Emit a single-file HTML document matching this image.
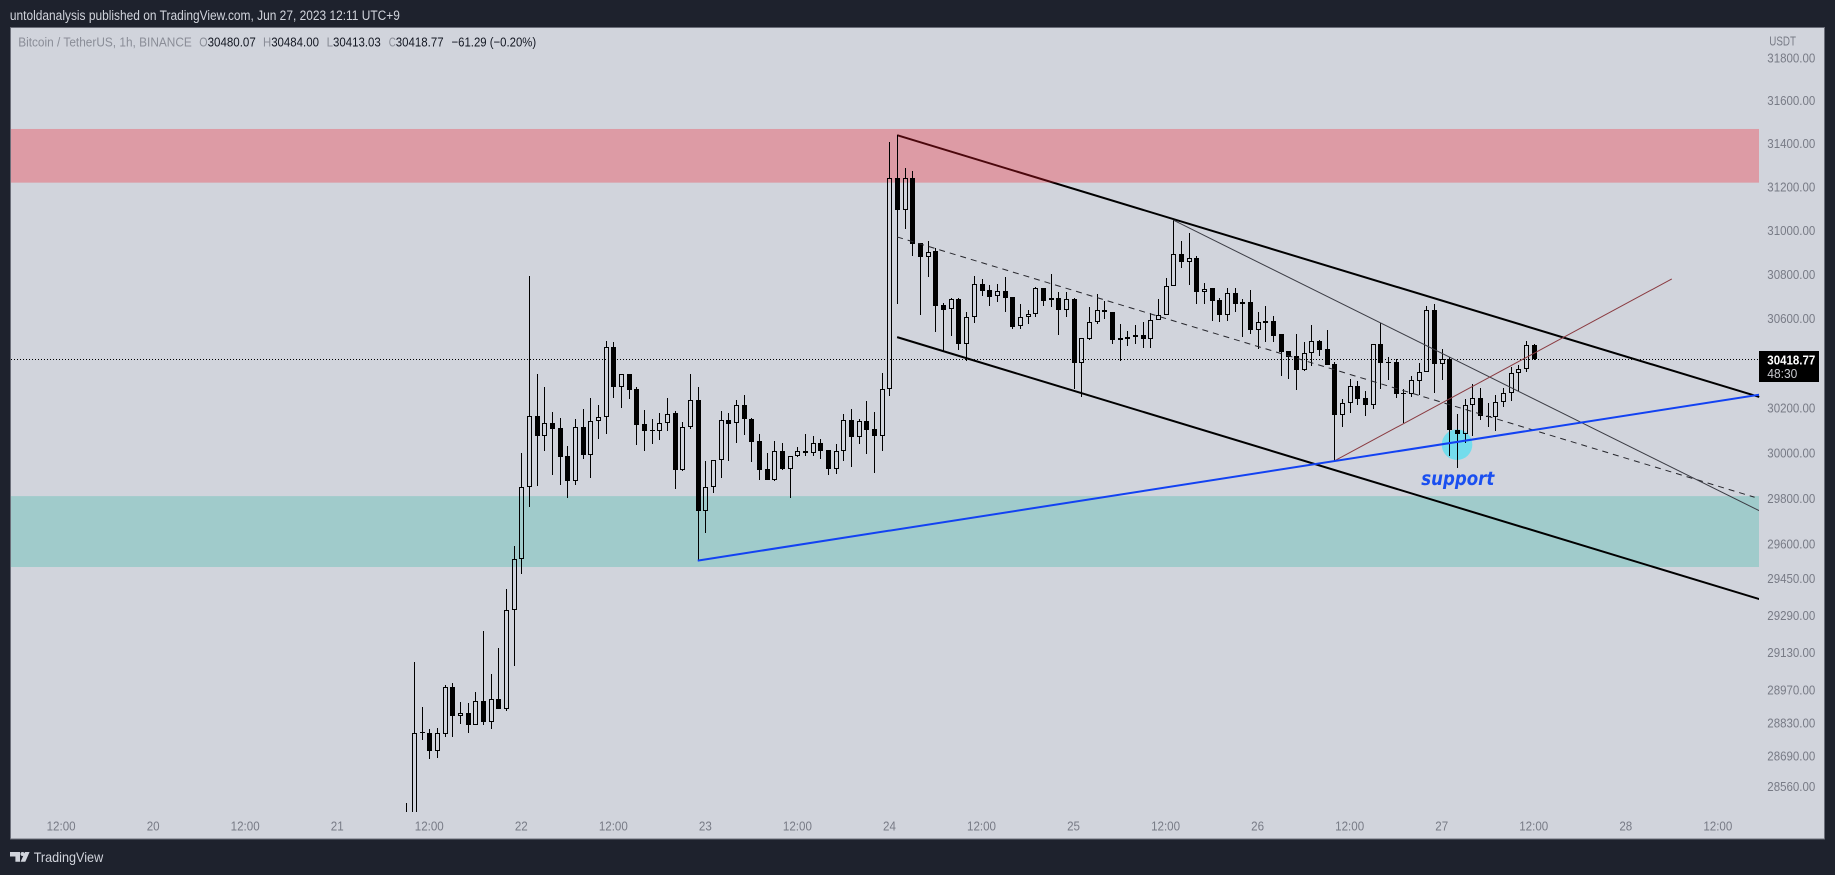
<!DOCTYPE html>
<html lang="en">
<head>
<meta charset="utf-8">
<title>BTCUSDT 1h chart</title>
<style>
html,body{margin:0;padding:0;background:#1e222d;width:1835px;height:875px;overflow:hidden}
svg{display:block;font-family:"Liberation Sans",sans-serif}
</style>
</head>
<body>
<svg id="chart" xmlns="http://www.w3.org/2000/svg" width="1835" height="875" viewBox="0 0 1835 875">
  <defs>
    <clipPath id="plot-clip"><rect x="11" y="28" width="1748" height="784"/></clipPath>
    <clipPath id="zone-clip"><rect x="11" y="28" width="1748" height="810"/></clipPath>
  </defs>
  <rect x="0" y="0" width="1835" height="875" fill="#1e222d"/>
  <rect x="10.5" y="27.5" width="1814" height="811.5" fill="#d1d4dc" stroke="#6b6e79" stroke-width="1"/>
  <text x="9.9" y="20" font-size="13.5" fill="#d1d4dc" textLength="390" lengthAdjust="spacingAndGlyphs">untoldanalysis published on TradingView.com, Jun 27, 2023 12:11 UTC+9</text>
  <g font-size="13" fill="#8a8d97">
    <text x="18.2" y="46.5" textLength="173.6" lengthAdjust="spacingAndGlyphs">Bitcoin / TetherUS, 1h, BINANCE</text>
    <text x="199.3" y="46.5" textLength="8.3" lengthAdjust="spacingAndGlyphs">O</text>
    <text x="207.6" y="46.5" fill="#131722" textLength="48.2" lengthAdjust="spacingAndGlyphs">30480.07</text>
    <text x="263" y="46.5" textLength="8.2" lengthAdjust="spacingAndGlyphs">H</text>
    <text x="271.2" y="46.5" fill="#131722" textLength="47.8" lengthAdjust="spacingAndGlyphs">30484.00</text>
    <text x="326.6" y="46.5" textLength="6.4" lengthAdjust="spacingAndGlyphs">L</text>
    <text x="333" y="46.5" fill="#131722" textLength="47.8" lengthAdjust="spacingAndGlyphs">30413.03</text>
    <text x="388.7" y="46.5" textLength="7.1" lengthAdjust="spacingAndGlyphs">C</text>
    <text x="395.8" y="46.5" fill="#131722" textLength="47.8" lengthAdjust="spacingAndGlyphs">30418.77</text>
    <text x="451.5" y="46.5" fill="#131722" textLength="84.7" lengthAdjust="spacingAndGlyphs">−61.29 (−0.20%)</text>
  </g>
  <g id="layer-under"></g>
  <g id="layer-candles" clip-path="url(#plot-clip)" shape-rendering="crispEdges"></g>
  <g id="layer-over" clip-path="url(#zone-clip)"></g>
  <g id="layer-axes"></g>
  <text x="1769.3" y="45.5" font-size="13" fill="#787b86" textLength="26.7" lengthAdjust="spacingAndGlyphs">USDT</text>
  <g>
    <path d="M10 852h10v9.7h-4.6v-5.2H10z M25 852h4.6l-4.3 9.7h-4.7z" fill="#d1d4dc"/>
    <circle cx="22.5" cy="854" r="2" fill="#d1d4dc"/>
    <text x="33.7" y="862" font-size="14" fill="#d1d4dc" textLength="69.5" lengthAdjust="spacingAndGlyphs">TradingView</text>
  </g>
</svg>
<script>
const firstHour = -15;
const opens = [28421,28380,28790,28786,28710,28780,28982,28857,28869,28822,28920,28831,28931,28888,29311,29532,29849,30163,30075,30132,30110,29986,29876,30114,29990,30141,30158,30471,30292,30351,30283,30127,30099,30096,30132,30176,29924,30114,30234,29744,29849,29968,30145,30132,30212,30149,30052,29928,29880,30008,29928,29986,30008,29999,30044,30012,29928,30008,30145,30070,30141,30105,30075,30283,31240,31093,31240,30942,30878,30906,30660,30642,30688,30485,30606,30756,30729,30701,30724,30697,30566,30606,30620,30738,30683,30692,30638,30688,30399,30507,30584,30638,30629,30512,30516,30516,30525,30507,30593,30615,30747,30892,30856,30874,30720,30738,30683,30615,30715,30674,30674,30548,30588,30588,30530,30453,30431,30368,30444,30498,30462,30395,30167,30221,30297,30243,30212,30485,30404,30404,30266,30261,30319,30359,30638,30395,30417,30101,30083,30212,30243,30163,30158,30225,30266,30355,30373,30480.07];
const highs = [28492,29089,28897,28803,28807,28990,29001,28918,28912,28961,29222,29038,29149,29403,29590,29999,30792,30351,30292,30181,30154,30030,30149,30194,30243,30212,30498,30494,30351,30351,30292,30190,30149,30176,30243,30185,30136,30351,30292,29964,29968,30185,30176,30234,30256,30154,30083,30000,30052,30044,29986,30026,30083,30075,30061,30012,30039,30172,30194,30149,30230,30181,30355,31406,31438,31286,31272,30942,30951,30919,30670,30692,30692,30629,30792,30779,30751,30756,30788,30697,30665,30638,30742,30738,30801,30720,30720,30692,30512,30651,30710,30679,30629,30575,30543,30570,30584,30625,30688,30783,31047,30951,30988,30883,30760,30738,30692,30738,30738,30688,30729,30629,30656,30611,30530,30453,30530,30494,30570,30503,30548,30404,30239,30328,30319,30274,30485,30579,30426,30417,30283,30341,30399,30656,30665,30462,30426,30172,30239,30306,30288,30221,30256,30288,30382,30391,30498,30484];
const lows = [28339,28339,28757,28676,28680,28770,28770,28825,28788,28822,28818,28801,28888,28878,29072,29469,29761,29854,30008,29902,29858,29801,29858,29973,29889,30061,30083,30243,30199,30239,30034,30008,30039,30057,30096,29840,29920,30105,29526,29647,29823,29889,29964,30044,30079,29959,29880,29880,29876,29924,29801,29981,29986,29986,29973,29902,29906,29964,29937,30039,29995,29911,30008,30252,30665,31006,30883,30615,30788,30539,30454,30521,30458,30408,30580,30701,30656,30674,30629,30552,30552,30575,30606,30656,30651,30525,30606,30283,30248,30503,30575,30597,30485,30408,30476,30485,30467,30467,30593,30615,30747,30828,30751,30665,30665,30588,30584,30588,30629,30516,30530,30462,30494,30494,30341,30328,30279,30364,30386,30431,30391,29964,30114,30176,30212,30163,30194,30283,30324,30243,30132,30248,30256,30359,30265,30324,29986,29933,30044,30075,30145,30114,30096,30203,30230,30274,30359,30413.03];
const closes = [28380,28786,28786,28710,28786,28982,28859,28869,28822,28920,28831,28931,28888,29311,29532,29849,30163,30075,30132,30105,29981,29876,30114,29990,30141,30158,30471,30292,30351,30279,30123,30096,30095,30132,30172,29924,30114,30234,29744,29849,29968,30145,30127,30212,30149,30048,29924,29880,30008,29928,29986,30008,29999,30044,30008,29928,30008,30145,30070,30141,30101,30075,30283,31240,31093,31240,30938,30878,30901,30656,30638,30688,30485,30606,30756,30724,30697,30724,30692,30561,30606,30620,30738,30679,30692,30638,30688,30399,30512,30584,30638,30629,30503,30503,30507,30525,30507,30593,30615,30747,30892,30856,30874,30720,30733,30679,30615,30715,30665,30665,30548,30584,30579,30521,30449,30426,30368,30444,30498,30458,30391,30167,30221,30297,30239,30212,30485,30399,30399,30261,30261,30324,30359,30638,30395,30417,30101,30083,30212,30243,30163,30158,30225,30266,30355,30373,30480,30418.77];

const priceTicks = [31800,31600,31400,31200,31000,30800,30600,30200,30000,29800,29600,29450,29290,29130,28970,28830,28690,28560];
const timeTickHours = [-60,-48,-36,-24,-12,0,12,24,36,48,60,72,84,96,108,120,132,144,156];
const timeTickLabels = ["12:00","20","12:00","21","12:00","22","12:00","23","12:00","24","12:00","25","12:00","26","12:00","27","12:00","28","12:00"];

const resistanceZone = [31467,31219];
const supportZone = [29809,29499];
const channelTop = [[49,31438],[161.4,30248]];
const channelBottom = [[49,30516],[161.4,29360]];
const channelMid = [[49,30970],[160.8,29804]];
const risingSupport = [[23,29527],[161.4,30258]];
const grayTrend = [[85,31047],[161.4,29745]];
const brownTrend = [[106,29964],[150,30779]];
const supportMarker = [122,30036];
const supportNote = [122.1,29857];
const countdownText = "48:30";

const NS = "http://www.w3.org/2000/svg";
function xOf(h){ return 521.3 + 7.67 * h; }
function yOf(p){ return 452.8 - 6783 * Math.log(p / 30000); }
function make(tag, attrs, parent){
  const el = document.createElementNS(NS, tag);
  for (const k in attrs) el.setAttribute(k, attrs[k]);
  parent.appendChild(el);
  return el;
}
const under = document.getElementById("layer-under");
const candles = document.getElementById("layer-candles");
const over = document.getElementById("layer-over");
const axes = document.getElementById("layer-axes");
const plotLeft = 11, plotRight = 1759;

function trendLine(points, style, parent){
  return make("line", Object.assign({
    x1: xOf(points[0][0]), y1: yOf(points[0][1]),
    x2: xOf(points[1][0]), y2: yOf(points[1][1])
  }, style), parent);
}

/* upper channel sits beneath the translucent zones */
const topLine = trendLine(channelTop, {stroke:"#000", "stroke-width":2, "stroke-linecap":"butt"}, under);



const redZone = make("rect", {x:plotLeft, y:yOf(resistanceZone[0]), width:plotRight-plotLeft, height:yOf(resistanceZone[1])-yOf(resistanceZone[0]), fill:"rgb(249,22,40)", "fill-opacity":0.3}, under);



const tealZone = make("rect", {x:plotLeft, y:yOf(supportZone[0]), width:plotRight-plotLeft, height:yOf(supportZone[1])-yOf(supportZone[0]), fill:"#a0cbcb"}, under);



const marker = make("circle", {cx:xOf(supportMarker[0]), cy:yOf(supportMarker[1]), r:15.3, fill:"#74dcec"}, under);



const lastClose = closes[closes.length - 1];
const priceLine = make("line", {x1:plotLeft, x2:plotRight, y1:Math.round(yOf(lastClose))+0.5, y2:Math.round(yOf(lastClose))+0.5, stroke:"#000", "stroke-width":1, "stroke-dasharray":"1 2"}, under);



/* candles */
opens.forEach(function(o, i){
  const h = highs[i], l = lows[i], c = closes[i];
  const cx = Math.round(xOf(firstHour + i));
  const up = c > o;
  const top = Math.round(yOf(Math.max(o, c)));
  let bot = Math.round(yOf(Math.min(o, c)));
  if (bot <= top) bot = top + 1;
  const yh = Math.round(yOf(h)), yl = Math.round(yOf(l));
  const g = make("g", {}, candles);
  
  
  if (yh < top) make("rect", {x:cx, y:yh, width:1, height:top-yh, fill:"#000"}, g);
  if (yl > bot) make("rect", {x:cx, y:bot, width:1, height:yl-bot, fill:"#000"}, g);
  if (up) {
    make("rect", {x:cx-2+0.5, y:top+0.5, width:4, height:Math.max(bot-top-1,1), fill:"none", stroke:"#000", "stroke-width":1}, g);
  } else {
    make("rect", {x:cx-2, y:top, width:5, height:bot-top, fill:"#000"}, g);
  }
});

/* drawings over candles */
const bottomLine = trendLine(channelBottom, {stroke:"#000", "stroke-width":2}, over);



const midLine = trendLine(channelMid, {stroke:"#26262c", "stroke-width":1, "stroke-dasharray":"6 5"}, over);



const grayLine = trendLine(grayTrend, {stroke:"#3b3c44", "stroke-width":1}, over);



const brownLine = trendLine(brownTrend, {stroke:"#8a3a40", "stroke-width":1}, over);



const blueLine = trendLine(risingSupport, {stroke:"#1242f2", "stroke-width":2}, over);



const note = make("text", {x:xOf(supportNote[0]), y:yOf(supportNote[1]), "text-anchor":"middle", "font-size":19, "font-weight":"bold", "font-style":"italic", "font-family":'"DejaVu Sans",sans-serif', fill:"#1a4ff0", textLength:73, lengthAdjust:"spacingAndGlyphs"}, over);
note.textContent = "support";



/* price axis */
priceTicks.forEach(function(p){
  const t = make("text", {x:1767.3, y:yOf(p)+4.7, "font-size":13, fill:"#787b86", textLength:48, lengthAdjust:"spacingAndGlyphs"}, axes);
  t.textContent = p.toFixed(2);
  
  
});

/* time axis */
timeTickHours.forEach(function(h, i){
  const t = make("text", {x:xOf(h), y:830.5, "font-size":13, fill:"#787b86", "text-anchor":"middle"}, axes);
  t.textContent = timeTickLabels[i];
  
  
  t.setAttribute('textLength', (t.getComputedTextLength() * 0.89).toFixed(1));
  t.setAttribute('lengthAdjust', 'spacingAndGlyphs');
});

/* last price tag */
const tagY = Math.round(yOf(lastClose)) - 8;
const tag = make("rect", {x:plotRight, y:tagY, width:60, height:31, fill:"#000"}, axes);



const tagPrice = make("text", {x:1767.3, y:tagY+13.5, "font-size":13, "font-weight":"bold", fill:"#fff", textLength:48, lengthAdjust:"spacingAndGlyphs"}, axes);
tagPrice.textContent = lastClose.toFixed(2);



const tagTime = make("text", {x:1767.3, y:tagY+27, "font-size":13, fill:"#c9cad0", textLength:30, lengthAdjust:"spacingAndGlyphs"}, axes);
tagTime.textContent = countdownText;


</script>
</body>
</html>
